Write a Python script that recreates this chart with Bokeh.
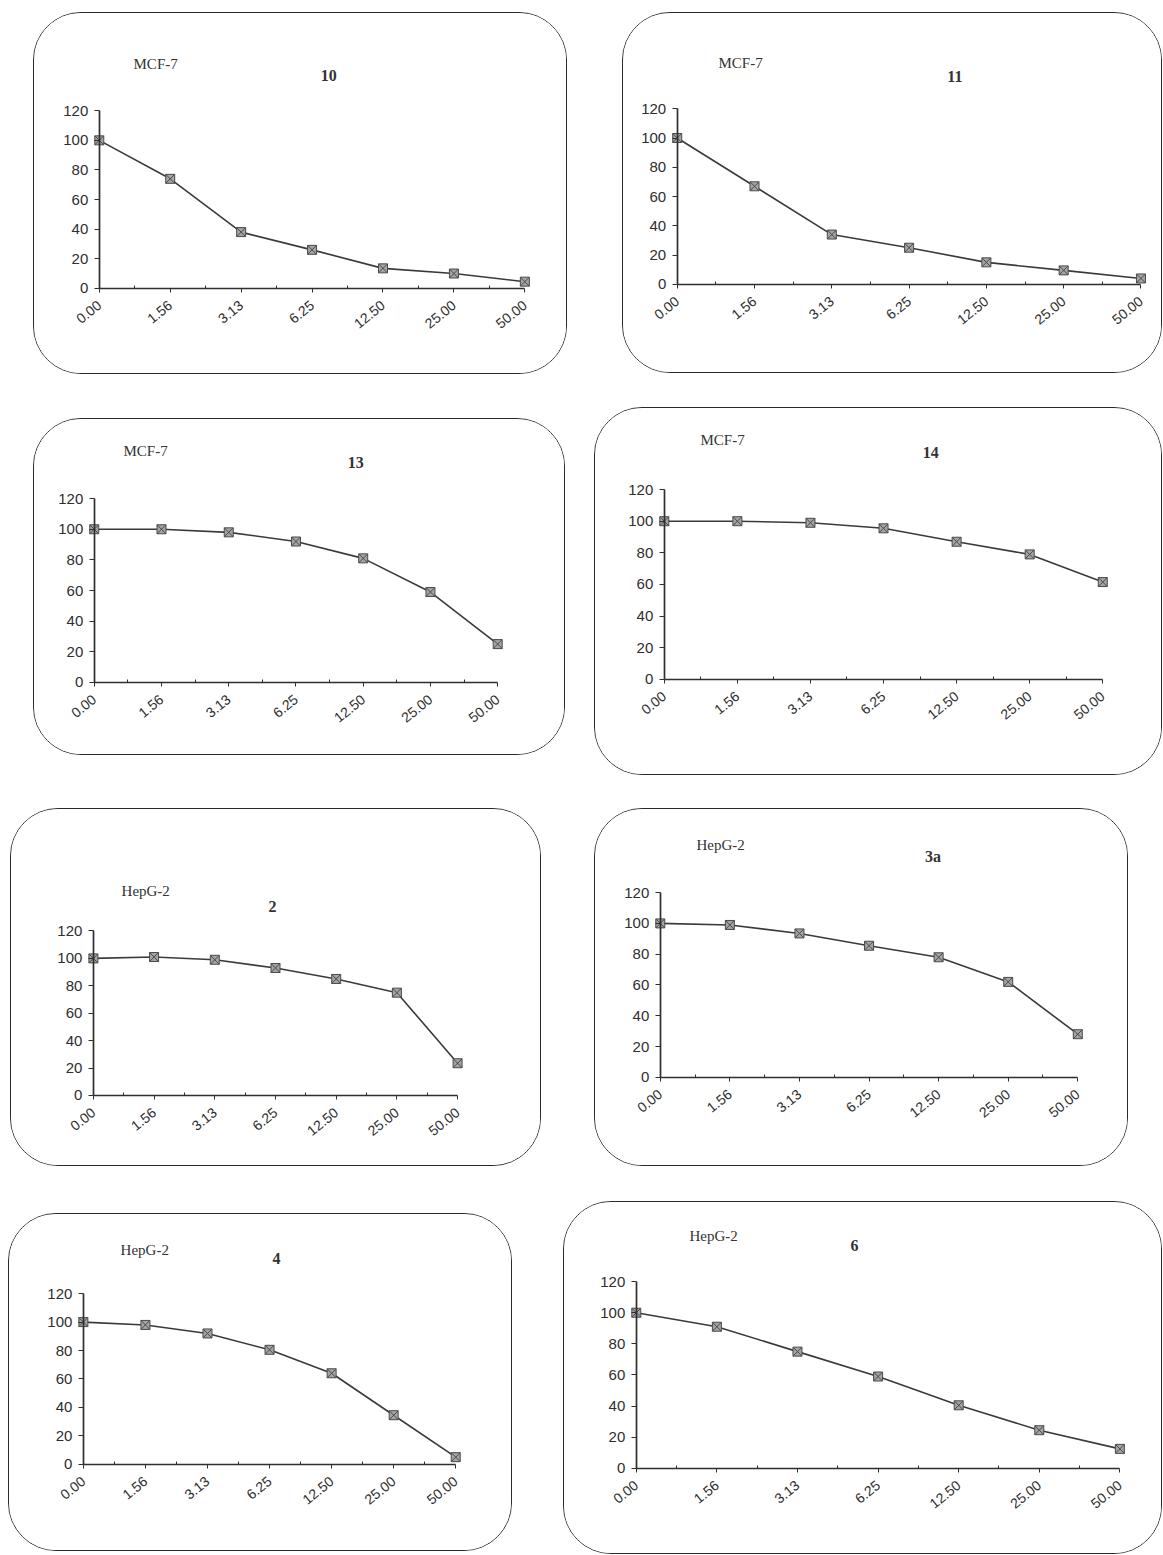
import math
from bokeh.plotting import figure
from bokeh.layouts import column, row
from bokeh.models import Range1d, FixedTicker, Label, ColumnDataSource
from bokeh.embed import file_html
from bokeh.resources import INLINE

# ---------------- data ----------------
concentrations = ["0.00", "1.56", "3.13", "6.25", "12.50", "25.00", "50.00"]
y_ticks = [0, 20, 40, 60, 80, 100, 120]

cell_lines = ["MCF-7", "MCF-7", "MCF-7", "MCF-7", "HepG-2", "HepG-2", "HepG-2", "HepG-2"]
compounds = ["10", "11", "13", "14", "2", "3a", "4", "6"]

viability_10 = [100, 74, 38, 26, 13.5, 10, 4.5]
viability_11 = [100, 67, 34, 25, 15, 9.5, 4]
viability_13 = [100, 100, 98, 92, 81, 59, 25]
viability_14 = [100, 100, 99, 95.5, 87, 79, 61.5]
viability_2 = [100, 101, 99, 93, 85, 75, 23.5]
viability_3a = [100, 99, 93.5, 85.5, 78, 62, 28]
viability_4 = [100, 98, 92, 80.5, 64, 34.5, 5]
viability_6 = [100, 91, 75, 59, 40.5, 24.5, 12.5]

series = [viability_10, viability_11, viability_13, viability_14,
          viability_2, viability_3a, viability_4, viability_6]

# ---------------- layout (page pixels) ----------------
# box: left, top, right, bottom ; axes: x of y-axis, y of 0, y of 120, x of last category
boxes = [(33, 12, 567, 374), (622, 12, 1162, 373),
         (33, 418, 565, 755), (594, 407, 1162, 775),
         (10, 808, 541, 1166), (594, 808, 1128, 1166),
         (8, 1213, 512, 1551), (563, 1201, 1162, 1554)]
axes_px = [(99, 286, 110, 522), (677, 282, 108, 1138),
           (94, 680, 498, 495), (664, 677, 489, 1100),
           (93, 1093, 930, 455), (660, 1075, 892, 1075),
           (83, 1462, 1293, 453), (636, 1466, 1281, 1117)]
cell_pos = [(155, 64), (740, 63), (145, 451), (722, 440),
            (145, 890), (720, 845), (144, 1250), (713, 1236)]
comp_pos = [(327, 75), (953, 76), (354, 462), (929, 452),
            (271, 906), (931, 856), (275, 1258), (853, 1245)]

ORIGIN = 0
BORDER = 1.6
INK = "#2e2e2e"


def make_panel(i, mt, ml):
    bl, bt, br, bb = boxes[i]
    ax, y0, y120, xe = axes_px[i]
    upx = (xe - ax) / 6.0          # pixels per category
    upy = (y0 - y120) / 120.0      # pixels per unit
    w, h = br - bl, bb - bt
    inner_l, inner_r = bl + BORDER, br - BORDER
    inner_t, inner_b = bt + BORDER, bb - BORDER
    p = figure(width=w, height=h,
               x_range=Range1d((inner_l - ax) / upx, 6 + (inner_r - xe) / upx),
               y_range=Range1d(-(inner_b - y0) / upy, 120 + (y120 - inner_t) / upy),
               output_backend="svg", toolbar_location=None,
               min_border=0, min_border_left=0, min_border_right=0,
               min_border_top=0, min_border_bottom=0,
               margin=(mt, 0, 0, ml))
    p.styles = {"border": f"{BORDER}px solid #2a2a2a", "border-radius": "48px",
                "box-sizing": "border-box", "overflow": "hidden"}
    p.background_fill_color = "white"
    p.border_fill_color = "white"
    p.outline_line_color = None
    p.grid.visible = False

    xs = list(range(len(concentrations)))
    src = ColumnDataSource(dict(x=xs, y=series[i]))
    p.line("x", "y", source=src, line_color="#3a3a3a", line_width=1.6)
    p.scatter("x", "y", source=src, marker="square_x", size=9,
              fill_color="#a4a4a4", line_color="#4a4a4a", line_width=1)

    xa = p.xaxis[0]
    xa.fixed_location = 0
    xa.bounds = (0, 6)
    xa.ticker = FixedTicker(ticks=xs, minor_ticks=[k + 0.5 for k in xs[:-1]])
    xa.major_label_overrides = {k: c for k, c in enumerate(concentrations)}
    xa.major_label_orientation = math.radians(39)
    xa.major_tick_in = 0
    xa.major_tick_out = 4
    xa.minor_tick_in = 3
    xa.minor_tick_out = 0
    xa.axis_line_color = INK
    xa.axis_line_width = 1.7
    xa.major_tick_line_color = INK
    xa.minor_tick_line_color = INK
    xa.major_label_text_font = "Liberation Sans"
    xa.major_label_text_font_size = "14px"
    xa.major_label_text_color = INK
    xa.major_label_standoff = 11

    ya = p.yaxis[0]
    ya.fixed_location = 0
    ya.bounds = (0, 120)
    ya.ticker = FixedTicker(ticks=y_ticks, minor_ticks=[])
    ya.major_tick_in = 0
    ya.major_tick_out = 5
    ya.minor_tick_line_color = None
    ya.axis_line_color = INK
    ya.axis_line_width = 1.7
    ya.major_tick_line_color = INK
    ya.major_label_text_font = "Liberation Sans"
    ya.major_label_text_font_size = "15px"
    ya.major_label_text_color = INK
    ya.major_label_standoff = 6

    def to_data(pos):
        px, py = pos
        return (px - ax) / upx, (y0 - py) / upy

    cx, cy = to_data(cell_pos[i])
    p.add_layout(Label(x=cx, y=cy, text=cell_lines[i], text_align="center",
                       text_baseline="middle", text_font="Liberation Serif",
                       text_font_size="15px", text_color="#333333"))
    nx, ny = to_data(comp_pos[i])
    p.add_layout(Label(x=nx, y=ny, text=compounds[i], text_align="center",
                       text_baseline="middle", text_font="Liberation Serif",
                       text_font_size="16px", text_font_style="bold",
                       text_color="#333333"))
    return p


rows_idx = [[0, 1], [2, 3], [4, 5], [6, 7]]
row_layouts = []
row_top = ORIGIN
for r in rows_idx:
    figs = []
    prev_right = ORIGIN
    for i in r:
        bl, bt, br, bb = boxes[i]
        figs.append(make_panel(i, bt - row_top, bl - prev_right))
        prev_right = br
    row_layouts.append(row(*figs, spacing=0))
    row_top = max(boxes[i][3] for i in r)

layout = column(*row_layouts, spacing=0)

open("out.html", "w").write(file_html(layout, INLINE))
